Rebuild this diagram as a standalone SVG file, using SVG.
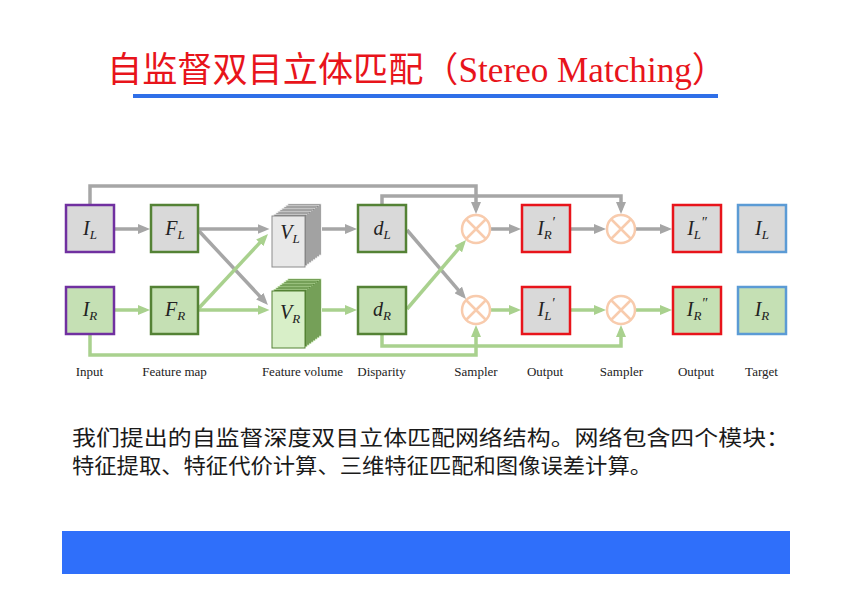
<svg xmlns="http://www.w3.org/2000/svg" width="851" height="602" viewBox="0 0 851 602">
<style>
.box{stroke-width:2.5}
.g{fill:#d9d9d9}.gr{fill:#c5e0b4}
.pu{stroke:#7030a0}.dg{stroke:#548235}.rd{stroke:#e8141b}.bl{stroke:#5b9bd5}
.m{font-family:"Liberation Serif","Times New Roman",serif;font-style:italic;font-size:20px;fill:#222;text-anchor:middle}
.s{font-size:13px}
.p{font-size:14px}
.cap{font-family:"Liberation Serif","Times New Roman",serif;font-size:13px;fill:#222;text-anchor:middle}
.lg{fill:none;stroke:#a6a6a6;stroke-width:3.5}
.lgr{fill:none;stroke:#a9d18e;stroke-width:3.5}
.sam{fill:#fff;stroke:#f8cbad;stroke-width:2.5}
.lay1{fill:#808080;stroke:#e2e2e2;stroke-width:0.7}
.lay2{fill:#548235;stroke:#b5d99c;stroke-width:0.7}
</style>
<defs>
<marker id="ag" viewBox="0 0 12 10" markerWidth="12" markerHeight="10" refX="7.5" refY="5" orient="auto" markerUnits="userSpaceOnUse"><path d="M0,0 L12,5 L0,10 z" fill="#a6a6a6"/></marker>
<marker id="agr" viewBox="0 0 12 10" markerWidth="12" markerHeight="10" refX="7.5" refY="5" orient="auto" markerUnits="userSpaceOnUse"><path d="M0,0 L12,5 L0,10 z" fill="#a9d18e"/></marker>
</defs>
<rect width="851" height="602" fill="#fff"/>
<g id="title">
<text x="107" y="82" font-family="'Noto Sans CJK SC','Liberation Serif',sans-serif" font-size="35" fill="#e8141b" textLength="620" lengthAdjust="spacingAndGlyphs">自监督双目立体匹配（<tspan font-family="'Liberation Serif',serif">Stereo Matching</tspan>）</text>
<rect x="133" y="94" width="585" height="4" fill="#2f6fe8"/>
</g>
<g id="connectors">
<path class="lg" d="M90,205 V186 H476 V209.5" marker-end="url(#ag)"/>
<path class="lg" d="M382,205 V196 H621 V209.5" marker-end="url(#ag)"/>
<path class="lgr" d="M90,334 V355 H476 V329.5" marker-end="url(#agr)"/>
<path class="lgr" d="M382,334 V346 H621 V329.5" marker-end="url(#agr)"/>
<path class="lg" d="M114,229 H145.5" marker-end="url(#ag)"/>
<path class="lgr" d="M114,310 H145.5" marker-end="url(#agr)"/>
<path class="lg" d="M199,229 H265" marker-end="url(#ag)"/>
<path class="lgr" d="M199,310 H265" marker-end="url(#agr)"/>
<path class="lg" d="M199,231 L264.9,301.7" marker-end="url(#ag)"/>
<path class="lgr" d="M199,308 L264.9,237.3" marker-end="url(#agr)"/>
<path class="lg" d="M322,229 H352.5" marker-end="url(#ag)"/>
<path class="lgr" d="M322,310 H352.5" marker-end="url(#agr)"/>
<path class="lg" d="M407,230 L463.1,295.6" marker-end="url(#ag)"/>
<path class="lgr" d="M407,309 L463.1,243.4" marker-end="url(#agr)"/>
<path class="lg" d="M490,229 H516.5" marker-end="url(#ag)"/>
<path class="lgr" d="M490,310 H516.5" marker-end="url(#agr)"/>
<path class="lg" d="M571,229 H601.5" marker-end="url(#ag)"/>
<path class="lgr" d="M571,310 H601.5" marker-end="url(#agr)"/>
<path class="lg" d="M635,229 H667.5" marker-end="url(#ag)"/>
<path class="lgr" d="M635,310 H667.5" marker-end="url(#agr)"/>
</g>
<g id="IL"><rect class="box g pu" x="66" y="205" width="48" height="47"/><text class="m" x="90" y="235">I<tspan class="s" dy="4">L</tspan></text></g>
<g id="IR"><rect class="box gr pu" x="66" y="287" width="48" height="47"/><text class="m" x="90" y="316">I<tspan class="s" dy="4">R</tspan></text></g>
<g id="FL"><rect class="box g dg" x="151" y="205" width="47" height="47"/><text class="m" x="175" y="235">F<tspan class="s" dy="4">L</tspan></text></g>
<g id="FR"><rect class="box gr dg" x="151" y="287" width="47" height="47"/><text class="m" x="175" y="316">F<tspan class="s" dy="4">R</tspan></text></g>
<g id="VL">
<rect class="lay1" x="288" y="204" width="33" height="51"/>
<rect class="lay1" x="286" y="205.5" width="33" height="51"/>
<rect class="lay1" x="284" y="207" width="33" height="51"/>
<rect class="lay1" x="282" y="208.5" width="33" height="51"/>
<rect class="lay1" x="280" y="210" width="33" height="51"/>
<rect class="lay1" x="278" y="211.5" width="33" height="51"/>
<rect class="lay1" x="276" y="213" width="33" height="51"/>
<rect class="lay1" x="274" y="214.5" width="33" height="51"/>
<rect x="272" y="216" width="33" height="51" fill="#e8e8e8" stroke="#8c8c8c" stroke-width="1"/>
<text class="m" x="290" y="239">V<tspan class="s" dy="4">L</tspan></text>
</g>
<g id="VR">
<rect class="lay2" x="288" y="279" width="33" height="57"/>
<rect class="lay2" x="286" y="280.5" width="33" height="57"/>
<rect class="lay2" x="284" y="282" width="33" height="57"/>
<rect class="lay2" x="282" y="283.5" width="33" height="57"/>
<rect class="lay2" x="280" y="285" width="33" height="57"/>
<rect class="lay2" x="278" y="286.5" width="33" height="57"/>
<rect class="lay2" x="276" y="288" width="33" height="57"/>
<rect class="lay2" x="274" y="289.5" width="33" height="57"/>
<rect x="272" y="291" width="33" height="57" fill="#d8efc8" stroke="#548235" stroke-width="1"/>
<text class="m" x="290" y="319">V<tspan class="s" dy="4">R</tspan></text>
</g>
<g id="dL"><rect class="box g dg" x="358" y="205" width="48" height="47"/><text class="m" x="382" y="235">d<tspan class="s" dy="4">L</tspan></text></g>
<g id="dR"><rect class="box gr dg" x="358" y="287" width="48" height="47"/><text class="m" x="382" y="316">d<tspan class="s" dy="4">R</tspan></text></g>
<g id="S1"><circle class="sam" cx="476" cy="229" r="14"/><path class="sam" d="M466,219 L486,239 M486,219 L466,239"/></g>
<g id="S2"><circle class="sam" cx="476" cy="310" r="14"/><path class="sam" d="M466,300 L486,320 M486,300 L466,320"/></g>
<g id="IpR"><rect class="box g rd" x="522" y="205" width="48" height="47"/><text class="m" x="546" y="235">I<tspan class="s" dy="4">R</tspan><tspan class="p" dy="-12">′</tspan></text></g>
<g id="IpL"><rect class="box g rd" x="522" y="287" width="48" height="47"/><text class="m" x="546" y="316">I<tspan class="s" dy="4">L</tspan><tspan class="p" dy="-12">′</tspan></text></g>
<g id="S3"><circle class="sam" cx="621" cy="229" r="14"/><path class="sam" d="M611,219 L631,239 M631,219 L611,239"/></g>
<g id="S4"><circle class="sam" cx="621" cy="310" r="14"/><path class="sam" d="M611,300 L631,320 M631,300 L611,320"/></g>
<g id="IppL"><rect class="box g rd" x="673" y="205" width="48" height="47"/><text class="m" x="697" y="235">I<tspan class="s" dy="4">L</tspan><tspan class="p" dy="-12">″</tspan></text></g>
<g id="IppR"><rect class="box gr rd" x="673" y="287" width="48" height="47"/><text class="m" x="697" y="316">I<tspan class="s" dy="4">R</tspan><tspan class="p" dy="-12">″</tspan></text></g>
<g id="TL"><rect class="box g bl" x="738" y="205" width="48" height="47"/><text class="m" x="762" y="235">I<tspan class="s" dy="4">L</tspan></text></g>
<g id="TR"><rect class="box gr bl" x="738" y="287" width="48" height="47"/><text class="m" x="762" y="316">I<tspan class="s" dy="4">R</tspan></text></g>
<g id="captions">
<text class="cap" x="89.5" y="376">Input</text>
<text class="cap" x="174.5" y="376">Feature map</text>
<text class="cap" x="302.5" y="376">Feature volume</text>
<text class="cap" x="381.5" y="376">Disparity</text>
<text class="cap" x="476" y="376">Sampler</text>
<text class="cap" x="545" y="376">Output</text>
<text class="cap" x="621.5" y="376">Sampler</text>
<text class="cap" x="696" y="376">Output</text>
<text class="cap" x="761.5" y="376">Target</text>
</g>
<g id="body" font-family="'Noto Sans CJK SC',sans-serif" font-size="21" fill="#1a1a1a">
<text x="72" y="445" textLength="718" lengthAdjust="spacingAndGlyphs">我们提出的自监督深度双目立体匹配网络结构。网络包含四个模块：</text>
<text x="72" y="473" textLength="580" lengthAdjust="spacingAndGlyphs">特征提取、特征代价计算、三维特征匹配和图像误差计算。</text>
</g>
<rect id="bar" x="62" y="531" width="728" height="43" fill="#2f6ffa"/>
</svg>
